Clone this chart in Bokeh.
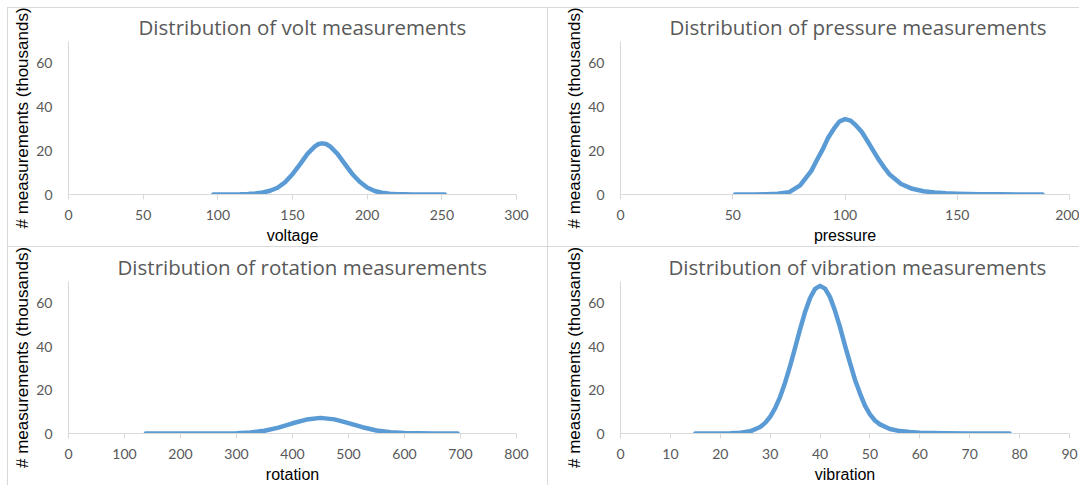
from bokeh.plotting import figure
from bokeh.layouts import column, row
from bokeh.models import Range1d, Spacer
from bokeh.embed import file_html
from bokeh.resources import INLINE

# ---------------- data (thousands of measurements) ----------------
volt_x = [97, 100, 105, 110, 115, 120, 125, 130, 135, 140, 145, 150, 155, 160, 165, 167.5,
          170, 172.5, 175, 180, 185, 190, 195, 200, 205, 210, 215, 220, 225, 230, 235, 240, 245, 252]
volt_y = [0.0, 0.0, 0.0, 0.05, 0.1, 0.25, 0.5, 0.9, 1.7, 3.1, 5.6, 9.3, 13.8, 18.6, 22.0, 23.1,
          23.4, 23.1, 22.1, 18.7, 14.0, 9.4, 5.8, 3.2, 1.6, 0.8, 0.35, 0.15, 0.06, 0.03, 0.01, 0.0, 0.0, 0.0]

pressure_x = [51, 55, 60, 65, 70, 75, 80, 82.5, 85, 87.5, 90, 92.5, 95, 97.5, 100, 102.5, 105,
              107.5, 110, 112.5, 115, 117.5, 120, 125, 130, 135, 140, 145, 150, 160, 170, 180, 188]
pressure_y = [0.0, 0.02, 0.05, 0.1, 0.3, 1.0, 4.2, 7.5, 10.8, 15.8, 20.5, 26.0, 30.0, 33.4, 34.5,
              33.8, 31.5, 28.6, 24.5, 20.2, 16.0, 12.3, 9.0, 4.8, 2.6, 1.5, 0.9, 0.55, 0.35, 0.15,
              0.07, 0.03, 0.0]

rotation_x = [138, 150, 200, 250, 300, 325, 350, 375, 400, 425, 450, 475, 500, 525, 550,
              575, 600, 650, 695]
rotation_y = [0.0, 0.0, 0.0, 0.02, 0.15, 0.5, 1.3, 2.7, 4.7, 6.4, 7.2, 6.5, 4.8, 2.9, 1.4,
              0.6, 0.2, 0.02, 0.0]

vibration_x = [15, 18, 20, 22, 24, 26, 28, 29, 30, 31, 32, 33, 34, 35, 36, 37, 38, 39, 40, 41,
               42, 43, 44, 45, 46, 47, 48, 49, 50, 51, 52, 54, 56, 58, 60, 65, 70, 75, 78]
vibration_y = [0.0, 0.02, 0.05, 0.1, 0.3, 1.0, 3.0, 4.9, 7.7, 11.7, 16.9, 23.5, 31.1, 39.5, 48.1,
               56.0, 62.4, 66.6, 68.0, 66.7, 62.8, 56.5, 49.0, 40.5, 32.5, 24.8, 18.5, 12.8, 8.8,
               6.0, 4.2, 2.1, 1.1, 0.65, 0.4, 0.15, 0.05, 0.01, 0.0]

titles = ["Distribution of volt measurements", "Distribution of pressure measurements",
          "Distribution of rotation measurements", "Distribution of vibration measurements"]
x_labels = ["voltage", "pressure", "rotation", "vibration"]
y_label = "# measurements (thousands)"
x_ticks = [[0, 50, 100, 150, 200, 250, 300],
           [0, 50, 100, 150, 200],
           [0, 100, 200, 300, 400, 500, 600, 700, 800],
           [0, 10, 20, 30, 40, 50, 60, 70, 80, 90]]
y_ticks = [0, 20, 40, 60]

BLUE = "#5B9BD5"
GREY_LINE = "#D9D9D9"
GREY_TEXT = "#595959"


def make_panel(title, title_offset, xlabel, xs, ys, xmax, xt, width, height, ml, mr, mt, mb):
    p = figure(width=width, height=height,
               x_range=Range1d(0, xmax), y_range=Range1d(0, 70),
               output_backend="svg", toolbar_location=None,
               min_border_left=ml, min_border_right=mr,
               min_border_top=mt, min_border_bottom=mb)
    p.title.text = title
    p.title.align = "left"
    p.title.offset = title_offset
    p.title.text_font = "Open Sans"
    p.title.text_font_size = "20.5px"
    p.title.text_font_style = "normal"
    p.title.text_color = GREY_TEXT
    p.title.standoff = 2

    p.xgrid.visible = False
    p.ygrid.visible = False
    p.outline_line_color = None
    p.border_fill_color = None
    p.background_fill_color = None
    p.styles = {"box-shadow": "inset 1px 1px 0 0 #D9D9D9"}

    p.line(xs, ys, line_color=BLUE, line_width=4.5, line_cap="round", line_join="round")

    xa = p.xaxis[0]
    xa.ticker = xt
    xa.axis_line_color = GREY_LINE
    xa.major_tick_line_color = GREY_LINE
    xa.major_tick_out = 5
    xa.major_tick_in = 0
    xa.minor_tick_line_color = None
    xa.major_label_standoff = 10
    xa.major_label_text_font = "Lato"
    xa.major_label_text_font_size = "14px"
    xa.major_label_text_color = GREY_TEXT
    xa.axis_label = xlabel
    xa.axis_label_text_font = "Liberation Sans"
    xa.axis_label_text_font_size = "16px"
    xa.axis_label_text_font_style = "normal"
    xa.axis_label_text_color = "#000000"
    xa.axis_label_standoff = 4

    ya = p.yaxis[0]
    ya.ticker = y_ticks
    ya.axis_line_color = GREY_LINE
    ya.major_tick_out = 0
    ya.major_tick_in = 0
    ya.major_tick_line_color = None
    ya.minor_tick_line_color = None
    ya.major_label_standoff = 16
    ya.major_label_text_font = "Lato"
    ya.major_label_text_font_size = "14px"
    ya.major_label_text_color = GREY_TEXT
    ya.axis_label = y_label
    ya.axis_label_text_font = "Liberation Sans"
    ya.axis_label_text_font_size = "17px"
    ya.axis_label_text_font_style = "normal"
    ya.axis_label_text_color = "#000000"
    ya.axis_label_standoff = 1
    return p


p1 = make_panel(titles[0], 70, x_labels[0], volt_x, volt_y, 300, x_ticks[0],
                540, 239, 61, 31, 34, 51)
p2 = make_panel(titles[1], 49, x_labels[1], pressure_x, pressure_y, 200, x_ticks[1],
                532, 239, 73, 10, 34, 51)
p3 = make_panel(titles[2], 49, x_labels[2], rotation_x, rotation_y, 800, x_ticks[2],
                540, 239, 61, 31, 35, 50)
p4 = make_panel(titles[3], 48, x_labels[3], vibration_x, vibration_y, 90, x_ticks[3],
                532, 239, 73, 10, 35, 50)

layout = column(Spacer(width=1079, height=7),
                row(Spacer(width=7, height=239), p1, p2),
                row(Spacer(width=7, height=239), p3, p4))

open("out.html", "w").write(file_html(layout, INLINE))
